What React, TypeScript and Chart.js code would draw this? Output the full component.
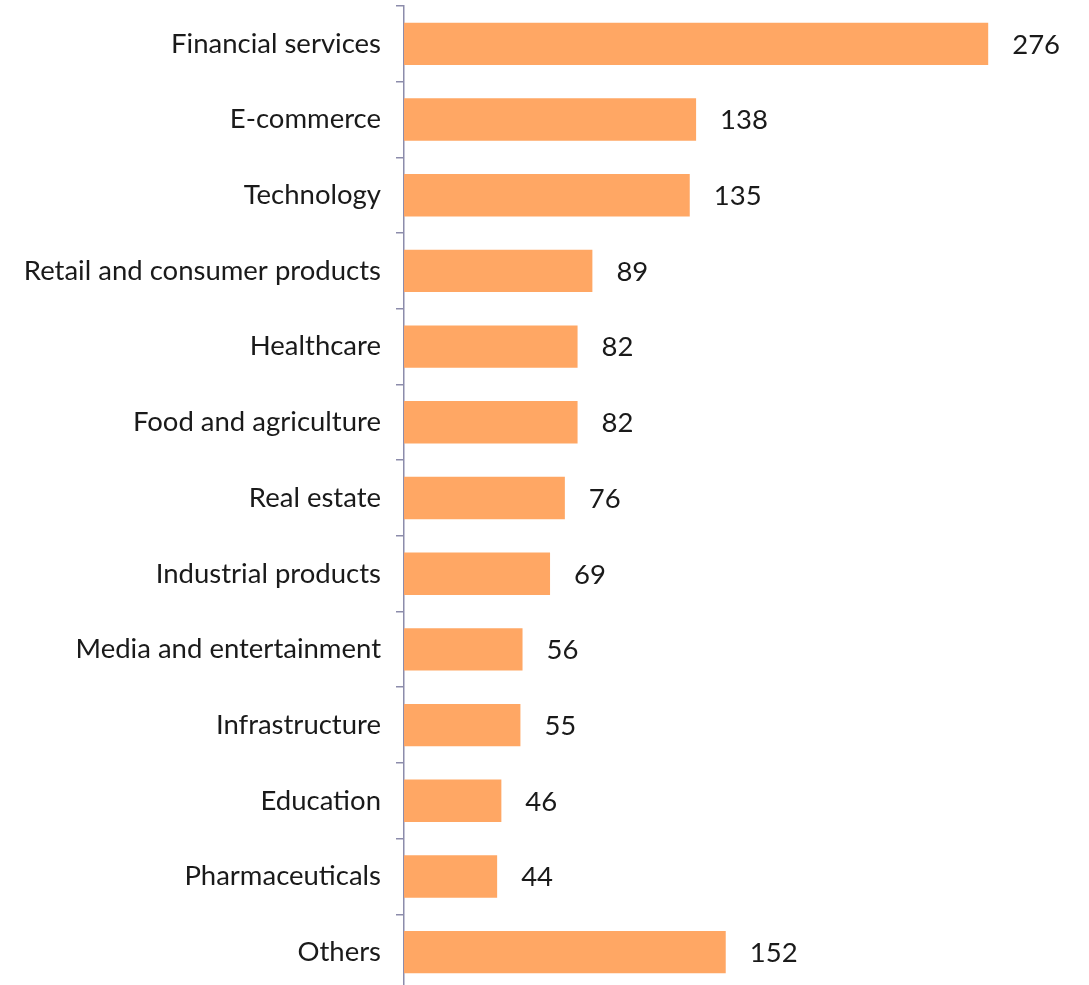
import React, { useEffect, useRef } from "react";
import { Chart, registerables } from "chart.js";

Chart.register(...registerables);

const categories = [
  "Financial services",
  "E-commerce",
  "Technology",
  "Retail and consumer products",
  "Healthcare",
  "Food and agriculture",
  "Real estate",
  "Industrial products",
  "Media and entertainment",
  "Infrastructure",
  "Education",
  "Pharmaceuticals",
  "Others",
];

const values = [276, 138, 135, 89, 82, 82, 76, 69, 56, 55, 46, 44, 152];

const FONT = "Lato, 'Open Sans', sans-serif";

const valueLabels = {
  id: "valueLabels",
  afterDatasetsDraw(chart: any) {
    const ctx = chart.ctx;
    const meta = chart.getDatasetMeta(0);
    ctx.save();
    ctx.font = `27.5px ${FONT}`;
    ctx.fillStyle = "#1a1a1a";
    ctx.textAlign = "left";
    ctx.textBaseline = "middle";
    meta.data.forEach((bar: any, i: number) => {
      ctx.fillText(String(values[i]), bar.x + 24, bar.y + 1);
    });
    ctx.restore();
  },
};

export default function App() {
  const ref = useRef<HTMLCanvasElement>(null);
  useEffect(() => {
    if (!ref.current) return;
    const chart = new Chart(ref.current, {
      type: "bar",
      data: {
        labels: categories,
        datasets: [
          {
            data: values,
            backgroundColor: "#FFA764",
            borderWidth: 0,
            categoryPercentage: 1,
            barPercentage: 0.56,
          },
        ],
      },
      options: {
        indexAxis: "y",
        animation: false,
        responsive: true,
        maintainAspectRatio: false,
        layout: { padding: { top: 6, bottom: 0, left: 0, right: 50 } },
        plugins: { legend: { display: false }, tooltip: { enabled: false } },
        scales: {
          x: {
            display: false,
            min: 0,
            max: 300,
          },
          y: {
            offset: true,
            afterFit: (scale: any) => {
              scale.width = 404;
              scale.paddingTop = 0;
              scale.paddingBottom = 0;
            },
            grid: {
              offset: true,
              drawOnChartArea: false,
              tickLength: 8,
              color: "#8c8cab",
              lineWidth: 1.5,
            },
            border: { display: true, color: "#8c8cab", width: 1.5 },
            ticks: {
              padding: 15,
              color: "#1a1a1a",
              font: { family: FONT, size: 27.5 },
            },
          },
        },
      },
      plugins: [valueLabels],
    });
    return () => chart.destroy();
  }, []);
  return (
    <div style={{ position: "fixed", left: 0, top: 0, width: 1089, height: 990, background: "#fff" }}>
      <canvas ref={ref} />
    </div>
  );
}
